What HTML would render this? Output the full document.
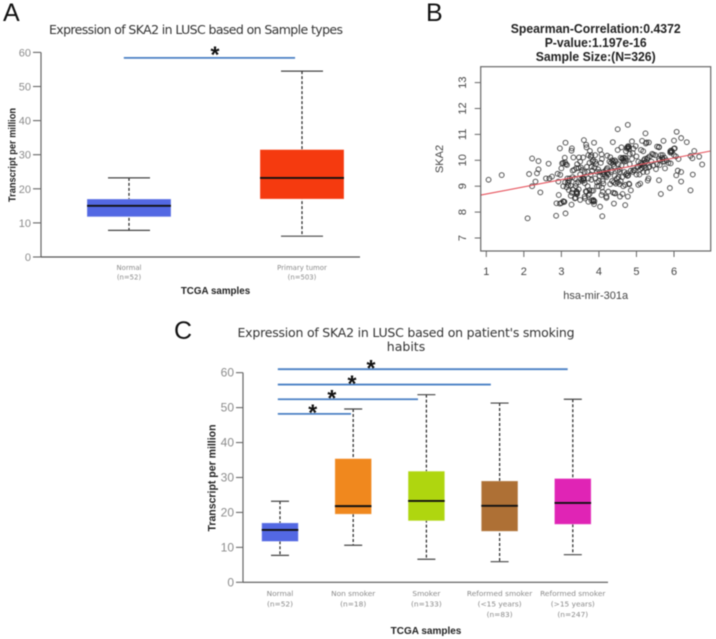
<!DOCTYPE html>
<html lang="en">
<head>
<meta charset="utf-8">
<title>Expression of SKA2 in LUSC</title>
<style>
html,body{margin:0;padding:0;background:#fff;width:716px;height:639px;overflow:hidden}
svg{display:block;filter:blur(0.4px)}
text{font-family:"Liberation Sans",sans-serif}
.ttl{font-family:"DejaVu Sans","Liberation Sans",sans-serif;fill:#333}
.cat{font-family:"DejaVu Sans","Liberation Sans",sans-serif;fill:#8a8a8a;text-anchor:middle}
.tick{fill:#8c8c8c;text-anchor:end}
.lab{font-weight:bold;fill:#222;text-anchor:middle}
.letter{font-size:25px;fill:#111}
.star{font-weight:bold;font-size:23px;fill:#111;text-anchor:middle}
</style>
</head>
<body>
<svg id="fig" xmlns="http://www.w3.org/2000/svg" width="716" height="639" viewBox="0 0 716 639">
  <text class="letter" x="3" y="21">A</text>
  <text class="letter" x="426" y="21">B</text>
  <text class="letter" x="174" y="339">C</text>

  <text class="ttl" x="196" y="34" font-size="12.5" text-anchor="middle" textLength="294" lengthAdjust="spacing">Expression of SKA2 in LUSC based on Sample types</text>
  <text class="lab" x="0" y="0" font-size="10.5" transform="translate(15.5,155) rotate(-90)" textLength="94" lengthAdjust="spacingAndGlyphs">Transcript per million</text>
  <text class="lab" x="215.5" y="294" font-size="9.8">TCGA samples</text>

  <text x="595.7" y="33" font-size="12.6" font-weight="bold" fill="#222" text-anchor="middle" textLength="170" lengthAdjust="spacingAndGlyphs">Spearman-Correlation:0.4372</text>
  <text x="595.7" y="47" font-size="12.6" font-weight="bold" fill="#222" text-anchor="middle" textLength="102" lengthAdjust="spacingAndGlyphs">P-value:1.197e-16</text>
  <text x="595.7" y="61" font-size="12.6" font-weight="bold" fill="#222" text-anchor="middle" textLength="120" lengthAdjust="spacingAndGlyphs">Sample Size:(N=326)</text>
  <text x="595.7" y="299" font-size="11" fill="#444" text-anchor="middle">hsa-mir-301a</text>
  <text x="0" y="0" font-size="11" fill="#444" text-anchor="middle" transform="translate(443,159) rotate(-90)">SKA2</text>

  <text class="ttl" x="406" y="337" font-size="12.5" text-anchor="middle" textLength="337" lengthAdjust="spacing">Expression of SKA2 in LUSC based on patient's smoking</text>
  <text class="ttl" x="406" y="351" font-size="12.5" text-anchor="middle">habits</text>
  <text class="lab" x="0" y="0" font-size="11" transform="translate(215.5,478) rotate(-90)" textLength="107" lengthAdjust="spacingAndGlyphs">Transcript per million</text>
  <text class="lab" x="426" y="634" font-size="10">TCGA samples</text>

  <g id="panelA"></g>
  <g id="panelB"></g>
  <g id="panelC"></g>
</svg>
<script>
// Panel A data: [low whisker, q1, median, q3, high whisker]
const aCategories = [["Normal","(n=52)"],["Primary tumor","(n=503)"]];
const aLow = [7.8, 6.1];
const aQ1 = [11.8, 17];
const aMedian = [15, 23.2];
const aQ3 = [17, 31.5];
const aHigh = [23.2, 54.5];
const aColors = ["#5368e3","#f53a0f"];
const aTicks = [0,10,20,30,40,50,60];
// significance brackets: [start category position, end category position, star position, transcript level]
const aSignificance = [[-0.03,0.96,0.497,58.4]];

// Panel C data
const cCategories = [["Normal","(n=52)"],["Non smoker","(n=18)"],["Smoker","(n=133)"],["Reformed smoker","(<15 years)","(n=83)"],["Reformed smoker","(>15 years)","(n=247)"]];
const cLow = [7.7, 10.6, 6.6, 5.9, 7.9];
const cQ1 = [11.7, 19.5, 17.6, 14.6, 16.6];
const cMedian = [15, 21.8, 23.3, 21.9, 22.7];
const cQ3 = [17, 35.4, 31.8, 29, 29.7];
const cHigh = [23.2, 49.6, 53.7, 51.3, 52.4];
const cColors = ["#5368e3","#f0881e","#afd60f","#ae7035","#e024b5"];
const cTicks = [0,10,20,30,40,50,60];
const cSignificance = [[-0.03,3.93,1.243,61],[-0.03,2.88,0.984,56.6],[-0.03,1.885,0.708,52.4],[-0.03,0.97,0.447,48.2]];

// Panel B data
const bXTicks = [1,2,3,4,5,6];
const bYTicks = [7,8,9,10,11,12,13];
const fitIntercept = 8.42;
const fitSlope = 0.278;
const mirValues = [1.06,1.41,2.10,2.14,2.22,2.22,2.31,2.35,2.39,2.39,2.44,2.59,2.66,2.68,2.75,2.86,2.87,2.96,2.93,2.92,2.90,2.97,2.96,3.11,3.09,3.11,3.07,3.05,3.02,3.10,3.15,3.00,3.16,3.17,3.14,3.20,3.25,3.27,3.28,3.27,3.32,3.34,3.36,3.39,3.41,3.36,3.50,3.47,3.58,3.60,3.66,3.67,3.76,3.87,3.78,3.90,4.03,4.07,4.37,4.50,4.77,4.88,5.24,5.27,5.33,6.07,6.19,6.34,6.00,5.72,6.02,6.54,6.44,6.67,6.49,6.75,6.12,6.50,6.19,6.10,6.06,6.19,6.44,5.89,5.65,5.60,5.91,5.76,5.52,
4.03,4.09,4.40,4.70,4.77,4.85,4.56,4.63,4.43,4.20,4.25,4.07,3.87,3.85,3.72,3.63,3.67,3.81,4.81,
3.30,3.42,3.46,3.52,3.55,3.50,3.58,3.52,3.60,3.62,3.45,3.38,3.42,3.40,3.46,3.30,3.25,3.20,3.70,3.65,3.72,3.62,3.75,3.80,3.85,3.88,3.72,
3.70,3.75,3.80,3.85,3.82,3.88,3.92,3.95,3.78,3.80,3.90,3.95,4.00,4.02,3.98,4.05,4.08,4.02,4.10,4.10,4.08,4.12,4.10,4.18,4.20,4.22,
4.25,4.28,4.30,4.22,4.35,4.38,4.40,4.32,4.42,4.35,4.30,4.45,4.48,4.50,4.52,4.42,4.45,4.50,4.60,4.58,4.62,4.65,4.60,4.55,4.62,4.58,4.55,4.70,4.65,4.68,
4.72,4.70,4.75,4.78,4.80,4.72,4.82,4.75,4.78,4.80,4.82,4.88,4.90,4.92,4.98,5.00,5.02,4.95,5.00,5.05,4.92,5.10,
5.08,5.10,5.12,5.15,5.18,5.20,5.22,5.25,5.18,5.15,5.28,5.30,5.32,5.30,5.35,5.40,5.45,5.32,5.25,5.55,5.60,5.60,5.65,5.55,5.62,5.70,5.70,5.75,5.75,5.85,5.90,5.92,5.95,6.00,6.00,6.05,5.60,5.45,5.10,
3.58,3.60,3.55,3.40,3.42,3.38,3.05,3.08,3.00,3.30,3.22,3.12,3.05,3.40,3.50,3.62,3.68,3.72,3.80,3.83,3.90,3.85,3.75,3.85,4.12,4.15,4.18,4.22,4.20,4.20,4.35,4.38,4.32,4.38,4.42,4.40,4.50,4.52,4.55,4.62,4.66,4.68,4.72,4.75,4.78,4.80,4.72,4.76,4.85,4.90,5.05,5.05,5.15,5.20,5.22,5.25,5.28,5.12,5.35,5.50,5.42,5.70,5.90,5.93,5.62,5.68,5.80,3.10,3.18,3.28,3.95,4.00];
const ska2Values = [9.25,9.43,7.76,9.47,10.07,9.00,9.18,9.50,9.65,9.97,8.76,9.30,9.87,9.30,9.37,7.86,8.34,8.33,8.66,9.18,9.48,9.44,10.46,10.68,10.10,7.95,8.39,9.00,9.88,9.92,9.82,9.69,9.30,9.14,8.96,8.85,8.63,8.29,10.46,10.37,10.11,9.63,9.30,9.10,8.79,8.53,8.47,10.11,10.11,10.78,10.60,10.50,10.36,10.68,10.14,10.20,10.40,10.23,10.70,11.20,11.37,10.73,11.04,10.69,10.69,11.10,10.86,10.70,10.76,10.75,10.46,10.36,10.17,10.14,10.08,9.84,10.05,9.45,9.55,9.60,9.42,9.18,8.84,8.93,8.70,9.23,9.88,9.69,9.66,
8.21,7.84,8.33,8.27,8.60,8.84,8.60,8.70,8.72,8.60,8.79,8.66,8.31,8.47,8.40,8.53,8.79,8.83,9.07,
9.60,9.85,9.70,9.72,9.62,9.45,9.30,9.25,9.22,9.12,9.15,9.00,8.75,8.70,8.88,8.88,9.02,9.20,9.00,8.80,8.65,8.60,8.85,8.45,8.40,8.42,9.30,
9.55,9.90,9.75,10.00,9.60,9.72,9.85,9.55,9.45,9.25,9.30,9.15,9.20,9.40,9.65,9.90,10.05,9.55,9.45,9.20,8.95,9.10,8.78,9.60,9.35,9.70,
9.45,9.95,10.12,10.18,10.00,9.85,9.75,9.55,9.40,9.20,9.08,9.10,9.30,9.60,9.85,10.00,9.95,10.40,10.50,10.10,10.08,10.00,9.80,9.55,9.35,9.20,9.08,9.05,9.00,9.55,
9.98,10.10,10.50,10.55,10.45,10.35,10.25,9.50,9.42,9.10,9.85,10.05,10.28,10.45,10.55,10.15,9.75,9.60,9.45,9.05,9.62,9.10,
9.45,9.80,10.40,10.75,10.35,10.00,9.90,9.70,9.55,9.85,9.55,10.10,9.30,9.22,10.15,9.95,10.22,9.72,10.65,10.53,10.52,10.50,10.20,9.85,9.82,9.95,10.05,9.95,10.10,9.90,10.30,10.38,10.35,10.20,10.45,10.15,10.05,9.80,9.65,
9.27,9.30,9.20,8.78,8.70,8.55,8.42,8.40,8.35,9.35,9.30,9.85,9.90,9.70,9.95,9.55,9.75,10.20,10.20,9.95,9.95,8.83,8.70,8.45,9.55,9.45,9.40,9.50,8.55,9.65,9.62,9.95,9.90,8.75,8.73,9.15,9.15,9.35,9.65,10.05,10.10,9.95,10.05,10.45,10.50,10.52,9.45,9.40,9.60,9.55,9.75,9.95,9.70,9.78,10.05,9.95,10.05,9.90,9.75,10.20,10.25,10.20,10.35,10.30,10.00,10.10,10.00,9.15,9.05,8.75,9.00,9.00];

const NS = "http://www.w3.org/2000/svg";
function mk(parent, tag, attrs, text){
  const el = document.createElementNS(NS, tag);
  for (const k in attrs) el.setAttribute(k, attrs[k]);
  if (text !== undefined) el.textContent = text;
  parent.appendChild(el);
  return el;
}

function drawBoxPlot(cfg){
  const g = cfg.group;
  const yS = v => cfg.y0 - v * cfg.yUnit;
  const xS = i => cfg.x0 + i * cfg.xStep;

  const yAxis = mk(g,"line",{x1:cfg.axisX,x2:cfg.axisX,y1:yS(60),y2:yS(0),stroke:"#666","stroke-width":1.2});
  
  
  const xAxis = mk(g,"line",{x1:cfg.axisX,x2:cfg.axisEnd,y1:yS(0),y2:yS(0),stroke:"#555","stroke-width":1.2});
  
  

  cfg.ticks.forEach(t => {
    const tk = mk(g,"line",{x1:cfg.axisX-cfg.tickLen,x2:cfg.axisX,y1:yS(t),y2:yS(t),stroke:"#666","stroke-width":1.1});
    
    
    const lb = mk(g,"text",{class:"tick",x:cfg.axisX-cfg.tickLen-2,y:yS(t)+4,"font-size":cfg.tickFont},String(t));
    
    
  });

  cfg.categories.forEach((lines,i) => {
    const cx = xS(i);
    const wh = mk(g,"line",{x1:cx,x2:cx,y1:yS(cfg.high[i]),y2:yS(cfg.low[i]),stroke:"#222","stroke-width":1.2,"stroke-dasharray":"3 2"});
    
    
    [cfg.high[i],cfg.low[i]].forEach(v => {
      const cap = mk(g,"line",{x1:cx-cfg.capHalf,x2:cx+cfg.capHalf,y1:yS(v),y2:yS(v),stroke:"#444","stroke-width":1.2});
      
      
    });
    const box = mk(g,"rect",{x:cx-cfg.boxHalf,y:yS(cfg.q3[i]),width:cfg.boxHalf*2,height:yS(cfg.q1[i])-yS(cfg.q3[i]),fill:cfg.colors[i],stroke:"#fff","stroke-opacity":0.35,"stroke-width":0.8});
    
    
    const med = mk(g,"line",{x1:cx-cfg.boxHalf,x2:cx+cfg.boxHalf,y1:yS(cfg.median[i]),y2:yS(cfg.median[i]),stroke:"#111","stroke-width":1.9});
    
    
    lines.forEach((s,j) => {
      const lb = mk(g,"text",{class:"cat",x:cx,y:cfg.catY+j*cfg.catGap,"font-size":cfg.catFont},s);
      
      
    });
  });

  cfg.significance.forEach(sig => {
    const bar = mk(g,"line",{x1:xS(sig[0]),x2:xS(sig[1]),y1:yS(sig[3]),y2:yS(sig[3]),stroke:"#4a80c4","stroke-width":1.8});
    
    
    const st = mk(g,"text",{class:"star",x:xS(sig[2]),y:yS(sig[3])+cfg.starDy},"*");
    
    
  });
}

drawBoxPlot({group:document.getElementById("panelA"),y0:257,yUnit:3.41,x0:129,xStep:173,axisX:41,axisEnd:360,tickLen:8,tickFont:11,
  boxHalf:42,capHalf:21,catY:270,catGap:9.5,catFont:6.9,categories:aCategories,low:aLow,q1:aQ1,median:aMedian,q3:aQ3,high:aHigh,colors:aColors,ticks:aTicks,
  significance:aSignificance,starDy:4.8});

drawBoxPlot({group:document.getElementById("panelC"),y0:582.3,yUnit:3.494,x0:280,xStep:73.2,axisX:243,axisEnd:608,tickLen:7,tickFont:12,
  boxHalf:18.3,capHalf:9,catY:596,catGap:10.6,catFont:7.4,categories:cCategories,low:cLow,q1:cQ1,median:cMedian,q3:cQ3,high:cHigh,colors:cColors,ticks:cTicks,
  significance:cSignificance,starDy:6.8});

(function(){
  const g = document.getElementById("panelB");
  const L = 480.7, R = 710.7, T = 66.7, B = 251;
  const xS = v => 486.3 + (v - 1) * 37.54;
  const yS = v => 238 - (v - 7) * 25.9;
  const xInv = px => 1 + (px - 486.3) / 37.54;

  const n = Math.min(mirValues.length, ska2Values.length);
  for (let i = 0; i < n; i++){
    const c = mk(g,"circle",{cx:xS(mirValues[i]),cy:yS(ska2Values[i]),r:2.4,fill:"none",stroke:"#222","stroke-width":0.9,"stroke-opacity":0.85});
    
    
  }
  const fit = mk(g,"line",{x1:L,x2:R,y1:yS(fitIntercept+fitSlope*xInv(L)),y2:yS(fitIntercept+fitSlope*xInv(R)),stroke:"#e6525c","stroke-width":1.1});
  
  
  const frame = mk(g,"rect",{x:L,y:T,width:R-L,height:B-T,fill:"none",stroke:"#666","stroke-width":1.2});
  
  

  bXTicks.forEach(t => {
    const tk = mk(g,"line",{x1:xS(t),x2:xS(t),y1:B,y2:B+6,stroke:"#666","stroke-width":1});
    
    
    const lb = mk(g,"text",{x:xS(t),y:275,"font-size":11,fill:"#444","text-anchor":"middle"},String(t));
    
    
  });
  bYTicks.forEach(t => {
    const tk = mk(g,"line",{x1:L-6,x2:L,y1:yS(t),y2:yS(t),stroke:"#666","stroke-width":1});
    
    
    const lb = mk(g,"text",{x:0,y:0,"font-size":11,fill:"#444","text-anchor":"middle",transform:"translate(466,"+yS(t)+") rotate(-90)"},String(t));
    
    
  });
})();
</script>
</body>
</html>
